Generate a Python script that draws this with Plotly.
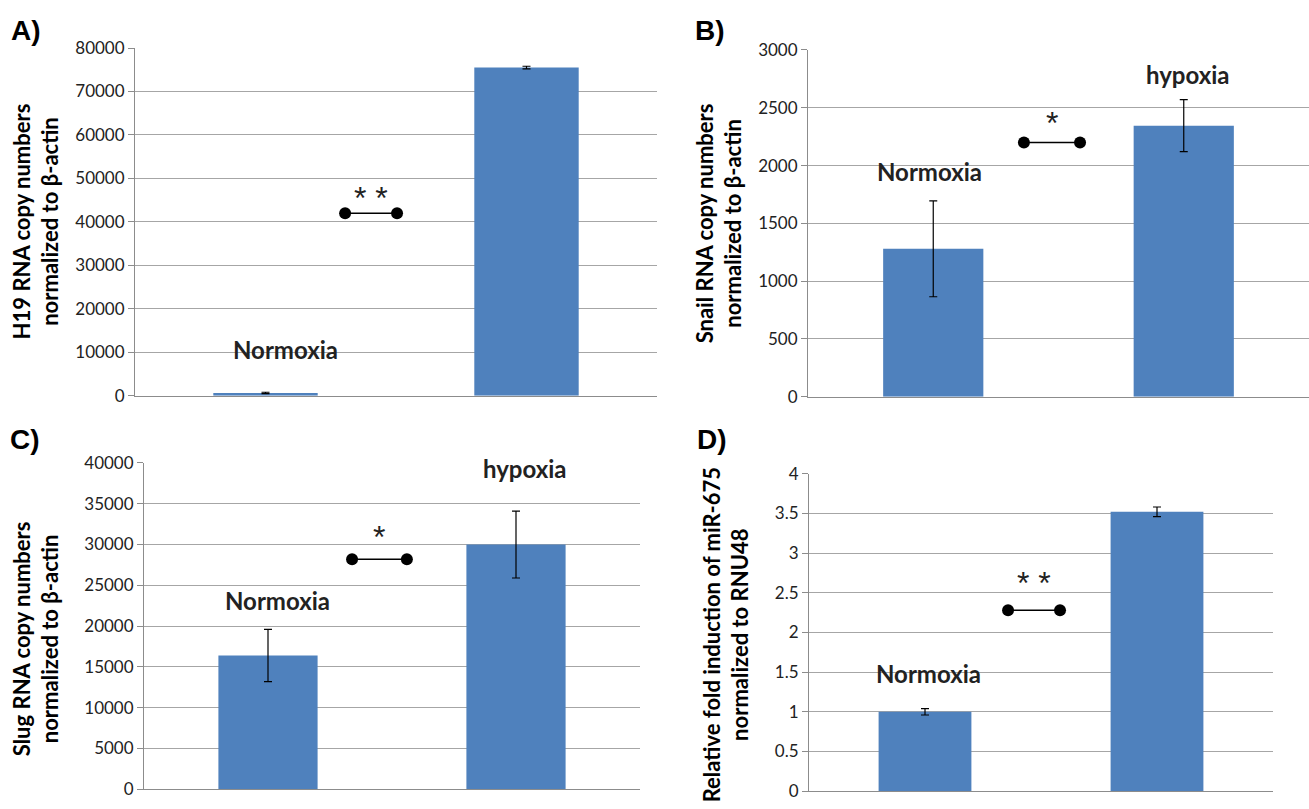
import plotly.graph_objects as go

# ---- data ----
categories = ["Normoxia", "hypoxia"]
h19_values = [650, 75500]
h19_err = [150, 300]
snail_values = [1280, 2345]
snail_err = [415, 225]
slug_values = [16400, 30000]
slug_err = [3200, 4100]
mir_values = [1.0, 3.52]
mir_err = [0.04, 0.06]

panel_letters = ["A)", "B)", "C)", "D)"]
y_titles = [
    "H19 RNA copy numbers<br>normalized to β-actin",
    "Snail RNA copy numbers<br>normalized to β-actin",
    "Slug RNA copy numbers<br>normalized to β-actin",
    "Relative fold induction of miR-675<br>normalized to RNU48",
]
y_max = [80000, 3000, 40000, 4]
y_dtick = [10000, 500, 5000, 0.5]
y_fmt = ["d", "d", "d", ""]
sig_marks = ["* *", "*", "*", "* *"]
# connector level and star level per panel
conn_level = [42000, 2200, 28200, 2.28]
star_level = [45600, 2370, 30900, 2.62]
conn_x = [[0.305, 0.504], [0.362, 0.586], [0.339, 0.560], [0.358, 0.582]]
# label positions (category offset, value)
norm_lab = [(0.075, 10750), (-0.013, 1950), (0.04, 23160), (0.017, 1.485)]
hyp_lab = [(1.036, 83600), (1.017, 2790), (1.036, 39280), (1.02, 4.02)]

values = [h19_values, snail_values, slug_values, mir_values]
errors = [h19_err, snail_err, slug_err, mir_err]

W, H = 1309, 809
# plot areas in pixels: (x0, x1, ytop, ybottom)
areas = [(135, 657, 38, 395), (808, 1309, 40, 396), (144, 640, 464, 799), (809, 1273, 475, 801)]
title_pos = [(36, 216), (719, 218), (36, 645), (726, 641)]
letter_pos = [(26, 20), (710, 20), (25, 440), (712, 440)]

BAR = "#4F81BD"
GRID = "#a6a6a6"
AX = "#8c8c8c"
FONT = "Lato"

fig = go.Figure()
layout = dict(
    width=W, height=H, margin=dict(l=0, r=0, t=0, b=0),
    paper_bgcolor="white", plot_bgcolor="white", showlegend=False,
    annotations=[],
)

for i in range(4):
    sfx = "" if i == 0 else str(i + 1)
    xa, ya = "x" + sfx, "y" + sfx
    x0, x1, yt, yb = areas[i]
    fig.add_trace(go.Bar(
        x=[0, 1], y=values[i], width=0.4, marker=dict(color=BAR, line=dict(width=0)),
        error_y=dict(type="data", array=errors[i], color="black", thickness=1.2, width=4),
        xaxis=xa, yaxis=ya, hoverinfo="skip",
    ))
    fig.add_trace(go.Scatter(
        x=conn_x[i], y=[conn_level[i], conn_level[i]], mode="lines+markers",
        line=dict(color="black", width=1.5), marker=dict(color="black", size=12),
        xaxis=xa, yaxis=ya, hoverinfo="skip", cliponaxis=False,
    ))
    layout["xaxis" + sfx] = dict(
        domain=[x0 / W, x1 / W], range=[-0.5, 1.5], showticklabels=False,
        showgrid=False, zeroline=False, showline=True, linecolor=AX, linewidth=1,
        anchor=ya, fixedrange=True,
    )
    layout["yaxis" + sfx] = dict(
        domain=[1 - yb / H, 1 - yt / H], range=[0, y_max[i]], dtick=y_dtick[i],
        tickformat=y_fmt[i],
        showgrid=True, gridcolor=GRID, gridwidth=1, zeroline=False,
        showline=True, linecolor=AX, linewidth=1, ticks="outside", ticklen=6,
        tickcolor=AX, tickfont=dict(family=FONT, size=17, color="#222"),
        anchor=xa, fixedrange=True,
    )
    anns = layout["annotations"]
    # significance stars
    anns.append(dict(x=sum(conn_x[i]) / 2, y=star_level[i], xref=xa, yref=ya,
                     text=sig_marks[i], showarrow=False, xanchor="center", yanchor="middle",
                     font=dict(family="Liberation Sans", size=32, color="#222")))
    # category labels
    anns.append(dict(x=norm_lab[i][0], y=norm_lab[i][1], xref=xa, yref=ya,
                     text="<b>" + categories[0] + "</b>", showarrow=False,
                     xanchor="center", yanchor="middle",
                     font=dict(family=FONT, size=24, color="#222")))
    anns.append(dict(x=hyp_lab[i][0], y=hyp_lab[i][1], xref=xa, yref=ya,
                     text="<b>" + categories[1] + "</b>", showarrow=False,
                     xanchor="center", yanchor="middle",
                     font=dict(family=FONT, size=24, color="#222")))
    # axis titles
    tx, ty = title_pos[i]
    anns.append(dict(x=tx / W, y=1 - ty / H, xref="paper", yref="paper",
                     text="<b>" + y_titles[i] + "</b>", showarrow=False, textangle=-90,
                     xanchor="center", yanchor="middle",
                     font=dict(family=FONT, size=22, color="black"), align="center"))
    # panel letters
    lx, ly = letter_pos[i]
    anns.append(dict(x=lx / W, y=1 - ly / H, xref="paper", yref="paper",
                     text="<b>" + panel_letters[i] + "</b>", showarrow=False,
                     xanchor="center", yanchor="middle",
                     font=dict(family="Liberation Sans", size=28, color="black")))

fig.update_layout(**layout)
fig.write_html("out.html")
